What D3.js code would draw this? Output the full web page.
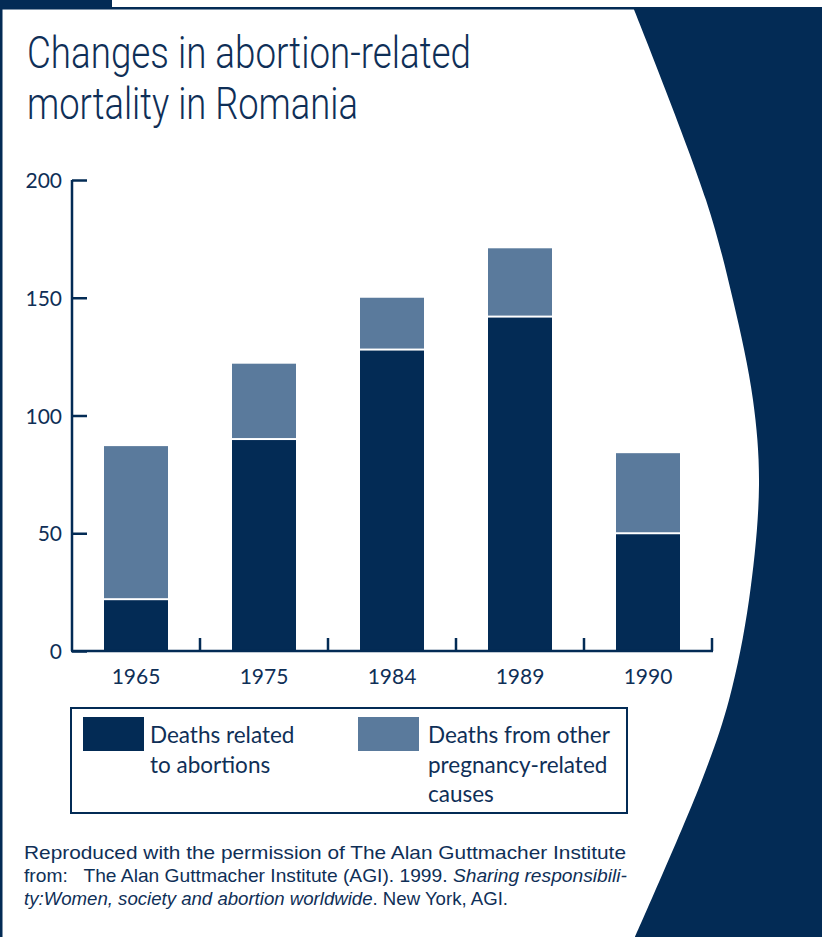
<!DOCTYPE html>
<html>
<head>
<meta charset="utf-8">
<script src="https://cdn.jsdelivr.net/npm/d3@7/dist/d3.min.js"></script>
<style>
  html, body { margin: 0; padding: 0; background: #ffffff; }
  svg { display: block; }
</style>
</head>
<body>
<svg id="chart" width="822" height="937"></svg>
<script>
// Maternal deaths per 100,000 live births, Romania
const years = ["1965", "1975", "1984", "1989", "1990"];
const abortionDeaths = [22, 90, 128, 142, 50];
const otherDeaths = [65, 32, 22, 29, 34];
const yTicks = [0, 50, 100, 150, 200];
const seriesNames = ["Deaths related to abortions", "Deaths from other pregnancy-related causes"];

const NAVY = "#032b55";
const STEEL = "#5a7a9c";
const INK = "#0f2f57";

const svg = d3.select("#chart");

// ---- page frame: tab, border, and the curved navy panel on the right ----
svg.append("rect").attr("x", 0).attr("y", 0).attr("width", 112).attr("height", 8).attr("fill", NAVY);
svg.append("rect").attr("x", 0).attr("y", 7).attr("width", 2.5).attr("height", 930).attr("fill", NAVY);
svg.append("rect").attr("x", 0).attr("y", 7).attr("width", 700).attr("height", 2.5).attr("fill", NAVY);

const edge = [[633, 7], [706, 200], [733, 300], [753, 400], [759, 485], [749, 600], [729, 700], [702, 780], [635, 937]];
const edgeLine = d3.line().curve(d3.curveCatmullRom.alpha(0.5));
svg.append("path")
  .attr("d", edgeLine(edge) + "L822,937L822,7Z")
  .attr("fill", NAVY);

// ---- title ----
const title = svg.append("g").attr("fill", INK)
  .style("font-family", "Roboto, 'Open Sans', sans-serif")
  .style("font-weight", 300)
  .style("font-size", "44px");
title.append("text").attr("x", 27).attr("y", 68)
  .attr("textLength", 444).attr("lengthAdjust", "spacingAndGlyphs")
  .text("Changes in abortion-related");
title.append("text").attr("x", 27).attr("y", 119)
  .attr("textLength", 331).attr("lengthAdjust", "spacingAndGlyphs")
  .text("mortality in Romania");

// ---- scales ----
const x = d3.scaleBand().domain(years).range([72, 712]).paddingInner(0.5).paddingOuter(0.25);
const y = d3.scaleLinear().domain([0, 200]).range([651, 180]);

const rows = years.map((yr, i) => ({ year: yr, abortion: abortionDeaths[i], other: otherDeaths[i] }));
const stacked = d3.stack().keys(["abortion", "other"])(rows);

// ---- bars ----
const gap = 1;
svg.append("g").selectAll("rect.abortion")
  .data(stacked[0]).join("rect")
  .attr("x", d => x(d.data.year))
  .attr("width", x.bandwidth())
  .attr("y", d => y(d[1]) + gap)
  .attr("height", d => y(d[0]) - y(d[1]) - gap)
  .attr("fill", NAVY);

svg.append("g").selectAll("rect.other")
  .data(stacked[1]).join("rect")
  .attr("x", d => x(d.data.year))
  .attr("width", x.bandwidth())
  .attr("y", d => y(d[1]))
  .attr("height", d => y(d[0]) - y(d[1]) - gap)
  .attr("fill", STEEL);

// ---- axes ----
const labelFont = "Lato, 'Open Sans', sans-serif";

const yAxis = svg.append("g").attr("transform", "translate(72,0)")
  .call(d3.axisRight(y).tickValues(yTicks).tickSize(15).tickFormat(""));
yAxis.select(".domain").attr("d", `M0,${y(200)}V${y(0)}`);
yAxis.selectAll("path, line").attr("stroke", NAVY).attr("stroke-width", 2.5);

svg.append("g").selectAll("text")
  .data(yTicks).join("text")
  .attr("x", 62).attr("y", d => y(d) + 8)
  .attr("text-anchor", "end")
  .attr("fill", INK)
  .style("font-family", labelFont).style("font-size", "21px")
  .text(d => d);

// x axis: baseline with upward ticks at the category boundaries
const boundaries = years.map(yr => x(yr) + x.bandwidth() + x.step() * x.paddingInner() / 2);
const xAxis = svg.append("g");
xAxis.append("line")
  .attr("x1", 71).attr("x2", boundaries[boundaries.length - 1] + 1)
  .attr("y1", y(0)).attr("y2", y(0))
  .attr("stroke", NAVY).attr("stroke-width", 2.5);
xAxis.selectAll("line.tick")
  .data(boundaries).join("line")
  .attr("class", "tick")
  .attr("x1", d => d).attr("x2", d => d)
  .attr("y1", y(0)).attr("y2", y(0) - 13)
  .attr("stroke", NAVY).attr("stroke-width", 2.5);

svg.append("g").selectAll("text")
  .data(years).join("text")
  .attr("x", d => x(d) + x.bandwidth() / 2)
  .attr("y", 684)
  .attr("text-anchor", "middle")
  .attr("fill", INK)
  .style("font-family", labelFont).style("font-size", "21px")
  .text(d => d);

// ---- legend ----
const legend = svg.append("g");
legend.append("rect")
  .attr("x", 71).attr("y", 708).attr("width", 556).attr("height", 105)
  .attr("fill", "none").attr("stroke", NAVY).attr("stroke-width", 2);

const legendItems = [
  { color: NAVY, sx: 83, tx: 150, lines: ["Deaths related", "to abortions"] },
  { color: STEEL, sx: 358, tx: 428, lines: ["Deaths from other", "pregnancy-related", "causes"] }
];
legendItems.forEach((item, i) => {
  legend.append("rect")
    .attr("x", item.sx).attr("y", 717).attr("width", 61).attr("height", 34)
    .attr("fill", item.color)
    .append("title").text(seriesNames[i]);
  legend.append("text")
    .attr("fill", INK)
    .style("font-family", labelFont).style("font-size", "22.5px")
    .selectAll("tspan").data(item.lines).join("tspan")
    .attr("x", item.tx).attr("y", (d, j) => 743 + j * 29.5)
    .text(d => d);
});

// ---- source note ----
const note = svg.append("g").attr("fill", INK)
  .style("font-family", "'Liberation Sans Narrow', 'Liberation Sans', Arial, sans-serif")
  .style("font-size", "19px");

note.append("text").attr("x", 24).attr("y", 859)
  .attr("textLength", 602).attr("lengthAdjust", "spacingAndGlyphs")
  .text("Reproduced with the permission of The Alan Guttmacher Institute");

const l2 = note.append("text").attr("x", 24).attr("y", 882)
  .attr("textLength", 603).attr("lengthAdjust", "spacingAndGlyphs");
l2.append("tspan").text("from:\u00a0\u00a0 The Alan Guttmacher Institute (AGI). 1999. ");
l2.append("tspan").style("font-style", "italic").text("Sharing responsibili-");

const l3 = note.append("text").attr("x", 24).attr("y", 905)
  .attr("textLength", 484).attr("lengthAdjust", "spacingAndGlyphs");
l3.append("tspan").style("font-style", "italic").text("ty:Women, society and abortion worldwide");
l3.append("tspan").text(". New York, AGI.");
</script>
</body>
</html>
